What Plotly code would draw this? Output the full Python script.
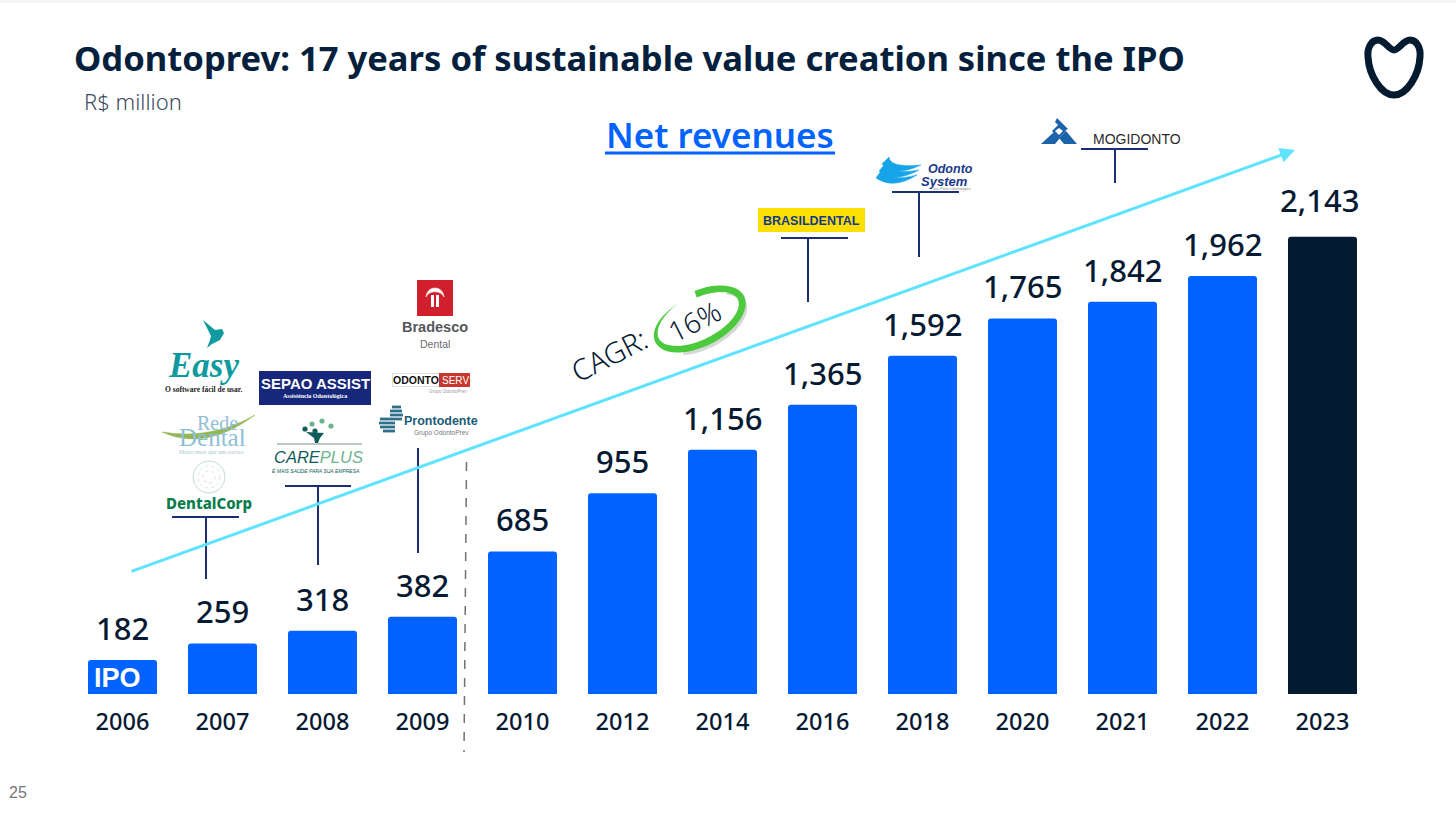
import numpy as np
import plotly.graph_objects as go

years = ["2006", "2007", "2008", "2009", "2010", "2012", "2014", "2016", "2018", "2020", "2021", "2022", "2023"]
net_revenues = [182, 259, 318, 382, 685, 955, 1156, 1365, 1592, 1765, 1842, 1962, 2143]

W, H = 1456, 815
BLUE = "#0062ff"
DARK = "#021b30"
INK = "#061a33"
NAVY = "#1b2f73"
CYAN = "#5fe3ff"
SANS = "Noto Sans"
ARIAL = "Liberation Sans"
SERIF = "Liberation Serif"

bar_colors = [BLUE] * (len(years) - 1) + [DARK]

fig = go.Figure()
fig.add_trace(go.Bar(x=years, y=net_revenues, marker=dict(color=bar_colors, line_width=0),
                     hoverinfo="x+y", showlegend=False))


def px(x):
    return x / W


def py(y):
    return 1 - y / H


def note(x, y, text, size, color=INK, family=SANS, weight=None, angle=0, style=None, anchor="center"):
    fig.add_annotation(xref="paper", yref="paper", x=px(x), y=py(y), text=text, showarrow=False,
                       xanchor=anchor, yanchor="middle", textangle=angle, borderpad=0,
                       font=dict(size=size, color=color, family=family, weight=weight, style=style))


def line(x0, y0, x1, y1, color=NAVY, width=2, dash=None):
    fig.add_shape(type="line", xref="paper", yref="paper", x0=px(x0), y0=py(y0), x1=px(x1), y1=py(y1),
                  line=dict(color=color, width=width, dash=dash))


def rect(x0, y0, x1, y1, color):
    fig.add_shape(type="rect", xref="paper", yref="paper", x0=px(x0), y0=py(y0), x1=px(x1), y1=py(y1),
                  fillcolor=color, line_width=0)


def circle(cx, cy, r, fill="rgba(0,0,0,0)", color=None, width=0, dash=None):
    fig.add_shape(type="circle", xref="paper", yref="paper", x0=px(cx - r), y0=py(cy - r), x1=px(cx + r), y1=py(cy + r),
                  fillcolor=fill, line=dict(color=color, width=width, dash=dash))


def path(cmds, fill=None, color=None, width=0):
    # cmds is svg-like, written in page pixels: ("M", x, y), ("C", x1, y1, x2, y2, x, y), ("Z",)
    d = ""
    for c in cmds:
        d += c[0]
        nums = c[1:]
        d += " ".join(f"{px(nums[i]):.5f},{py(nums[i + 1]):.5f}" for i in range(0, len(nums), 2)) + " "
    fig.add_shape(type="path", xref="paper", yref="paper", path=d, fillcolor=fill,
                  line=dict(color=color, width=width))


def poly(points, fill):
    cmds = [("M", *points[0])] + [("L", *p) for p in points[1:]] + [("Z",)]
    path(cmds, fill=fill, color=fill, width=0)


# top strip of the slide
rect(0, 0, W, 3, "#f4f4f4")

# value labels sit on the bars (category index, numeric looking strings are not read as categories here)
for i, val in enumerate(net_revenues):
    last = i == len(years) - 1
    fig.add_annotation(xref="x", yref="y", x=i, y=val, text=f"{val:,}", showarrow=False, yanchor="middle",
                       yshift=37 if last else 32, xshift=-3 if last else 0,
                       font=dict(size=31, color=INK, family=SANS, weight=500))

note(73, 57.5, "Odontoprev: 17 years of sustainable value creation since the IPO", 34.6, "#04203c", SANS, 700, anchor="left")
note(83, 101, "R$ million", 22, "#3a4a5c", SANS, 300, anchor="left")
note(720, 135, "Net revenues", 35, BLUE, SANS, 600)
line(605, 153, 835, 153, BLUE, 3)
note(18, 792, "25", 16, "#777777", ARIAL)
note(117, 678, "IPO", 27, "white", ARIAL, 700)

# tooth logo
path([("M", 1394, 50), ("C", 1389, 50, 1385, 40, 1378, 40), ("C", 1372, 40, 1367, 47, 1368, 57),
      ("C", 1369, 75, 1381, 95, 1394, 95), ("C", 1407, 95, 1419, 75, 1420, 57),
      ("C", 1421, 47, 1416, 40, 1410, 40), ("C", 1403, 40, 1399, 50, 1394, 50), ("Z",)],
     color=DARK, width=7)

# growth arrow
fig.add_annotation(xref="paper", yref="paper", x=px(1295), y=py(150), ax=130 - 1295, ay=572 - 150,
                   text="", showarrow=True, arrowhead=2, arrowsize=1, arrowwidth=3, arrowcolor=CYAN)

# split between the yearly and the later years
line(466.5, 462, 464, 752, "#707070", 1.5, "dash")

# connectors to the acquisitions
line(172, 517, 239, 517)
line(206, 517, 206, 579)
line(285, 486, 351, 486)
line(318, 486, 318, 565)
line(418, 448, 418, 553)
line(781, 238, 848, 238)
line(808, 238, 808, 302)
line(892, 192, 959, 192)
line(919, 192, 919, 257)
line(1081, 149, 1148, 149)
line(1115, 149, 1115, 183)

# CAGR badge
phi = np.radians(-27)
cx, cy, a, b = 699, 319, 47, 24


def ell(t, grow=0.0, dx=0, dy=0):
    ca, sa = (a + grow) * np.cos(t), (b + grow) * np.sin(t)
    return (cx + ca * np.cos(phi) - sa * np.sin(phi) + dx, cy + ca * np.sin(phi) + sa * np.cos(phi) + dy)


shadow = np.radians(np.arange(130, -45, -5))
poly([ell(t, 2, 3, 4) for t in shadow] + [ell(t, -2, 3, 4) for t in shadow[::-1]], "#d4d8d4")
ts = np.radians(np.arange(255, -82, -5))
widths = np.minimum(1, (ts[0] - ts) / np.radians(110)) * 7
poly([(708, 280)] + [ell(t, w / 2) for t, w in zip(ts, widths)] + [ell(t, -w / 2) for t, w in zip(ts[::-1], widths[::-1])],
     "#4cc93c")
note(609, 355, "CAGR:", 29, INK, SANS, 300, angle=-27)
note(694, 321, "16%", 28, INK, SANS, 300, angle=-27)

# Easy
poly([(203, 320), (215, 330), (222, 329), (224, 333), (220, 340), (212, 344), (207, 348), (210, 340), (211, 336)], "#0e9a9f")
note(203, 365, "Easy", 35, "#0e9a9f", SERIF, 700, style="italic")
note(203, 389, "O software fácil de usar.", 7.5, "#222222", SERIF, 700)

# Rede Dental
note(217, 423, "Rede", 20, "#8fc0d6", SERIF)
note(212, 437, "Dental", 25, "#8fc0d6", SERIF)
path([("M", 162, 432), ("Q", 205, 452, 255, 415), ("Q", 212, 440, 162, 432), ("Z",)], fill="#93b553", color="#93b553", width=0.5)
note(211, 452, "Muito mais que um sorriso", 6, "#a5c8d8", SERIF)

# DentalCorp
circle(209, 477, 16, color="#c5dcd4", width=1)
circle(209, 477, 11, color="#d5e6e0", width=1, dash="dot")
circle(209, 477, 6, color="#d5e6e0", width=1, dash="dot")
note(209, 503, "DentalCorp", 15, "#0a7d4b", SANS, 800)

# Sepao Assist
rect(259, 371, 371, 405, "#17287a")
note(315, 384, "SEPAO ASSIST", 15, "white", ARIAL, 700)
note(315, 396, "Assistência Odontológica", 6, "white", SERIF, 700)

# Care Plus
for gx, gy, col in [(312, 424, "#6db48c"), (322, 421, "#6db48c"), (305, 429, "#0f5c5a"), (331, 426, "#6db48c"), (315, 431, "#0f5c5a")]:
    circle(gx, gy, 2.6, fill=col, color=col, width=0)
poly([(306, 432), (324, 433), (320, 438), (318, 443), (315, 443), (314, 438)], "#0f5c5a")
line(277, 444, 362, 444, "#9cbab0", 1.5)
note(318, 457, '<span style="color:#0f5c5a">CARE</span><span style="color:#6db48c">PLUS</span>', 16.5, "#0f5c5a", ARIAL, None, style="italic")
note(316, 471, "É MAIS SAÚDE PARA SUA EMPRESA", 5, "#0f5c5a", ARIAL, None, style="italic")

# Bradesco
rect(417, 280, 453, 316, "#d0202d")
path([("M", 426, 297), ("C", 427, 285, 443, 285, 444, 297), ("C", 441, 290, 429, 290, 426, 297), ("Z",)], fill="white", color="white", width=0.5)
rect(431, 295, 434, 307, "white")
rect(436, 295, 439, 307, "white")
note(435, 327, "Bradesco", 14.5, "#55565a", ARIAL, 700)
note(435, 344, "Dental", 10.5, "#6a6b70", ARIAL)

# Odonto Serv
rect(392, 373, 470, 387, "#dddddd")
rect(393, 374, 439, 386, "white")
rect(439, 373, 470, 387, "#c8372d")
note(416, 380, "ODONTO", 10.5, "#111111", ARIAL, 700)
note(455, 380, "SERV", 10, "white", ARIAL)
note(448, 391, "Grupo OdontoPrev", 4.5, "#999999", ARIAL)

# Prontodente
for sy, x0, x1 in [(407, 392, 401), (411, 390, 402), (415, 390, 403), (419, 380, 402), (423, 379, 395), (427, 380, 395), (431, 383, 395)]:
    line(x0, sy, x1, sy, "#2f6f8c", 2.8)
note(441, 421, "Prontodente", 12.5, "#1c5d78", ARIAL, 700)
note(442, 433, "Grupo OdontoPrev", 6.5, "#777777", ARIAL)

# Brasildental
rect(758, 208, 865, 232, "#ffdf00")
note(811, 221, "BRASILDENTAL", 12.5, "#123a8c", ARIAL, 700)

# Odonto System
for k in range(3):
    path([("M", 889 - k * 4, 157 + k * 7), ("Q", 890 + k, 168 + k * 7, 921 - k * 2, 165 + k * 5),
          ("Q", 893, 178 + k * 6, 882 - k * 3, 164 + k * 7), ("Z",)], fill="#16a4e8", color="#16a4e8", width=0.5)
note(950, 169, "Odonto", 12.5, "#1a3a8a", ARIAL, 700, style="italic")
note(944, 181, "System", 13, "#1a3a8a", ARIAL, 700, style="italic")
note(952, 189, "Seu Plano Odontológico", 3.5, "#888888", ARIAL)

# Mogidonto
poly([(1041, 144), (1054, 132), (1060, 138), (1055, 144)], "#1d63a8")
poly([(1064, 144), (1059, 138), (1066, 131), (1077, 144)], "#1d63a8")
poly([(1057, 118), (1068, 129), (1064, 131), (1055, 122)], "#1d63a8")
poly([(1059, 124), (1066, 131), (1059, 138), (1052, 131)], "#1d63a8")
poly([(1059, 128), (1063, 131), (1059, 135), (1055, 131)], "white")
note(1137, 139, "MOGIDONTO", 14, "#2a2a2a", ARIAL)

fig.update_layout(
    width=W, height=H, margin=dict(l=0, r=0, t=0, b=0), autosize=False,
    paper_bgcolor="white", plot_bgcolor="white",
    bargap=0.31, barcornerradius=3, showlegend=False,
    xaxis=dict(type="category", domain=[72.5 / W, 1372.5 / W], range=[-0.5, 12.5], showgrid=False, zeroline=False,
               showline=False, ticks="", ticklabelstandoff=11,
               tickfont=dict(size=23.5, color=INK, family=SANS, weight=500)),
    yaxis=dict(domain=[1 - 694 / H, 1], range=[24.6, 3240.5], visible=False, showgrid=False, zeroline=False),
)

fig.write_html("out.html", config=dict(displayModeBar=False), post_script="document.body.style.margin='0';")
